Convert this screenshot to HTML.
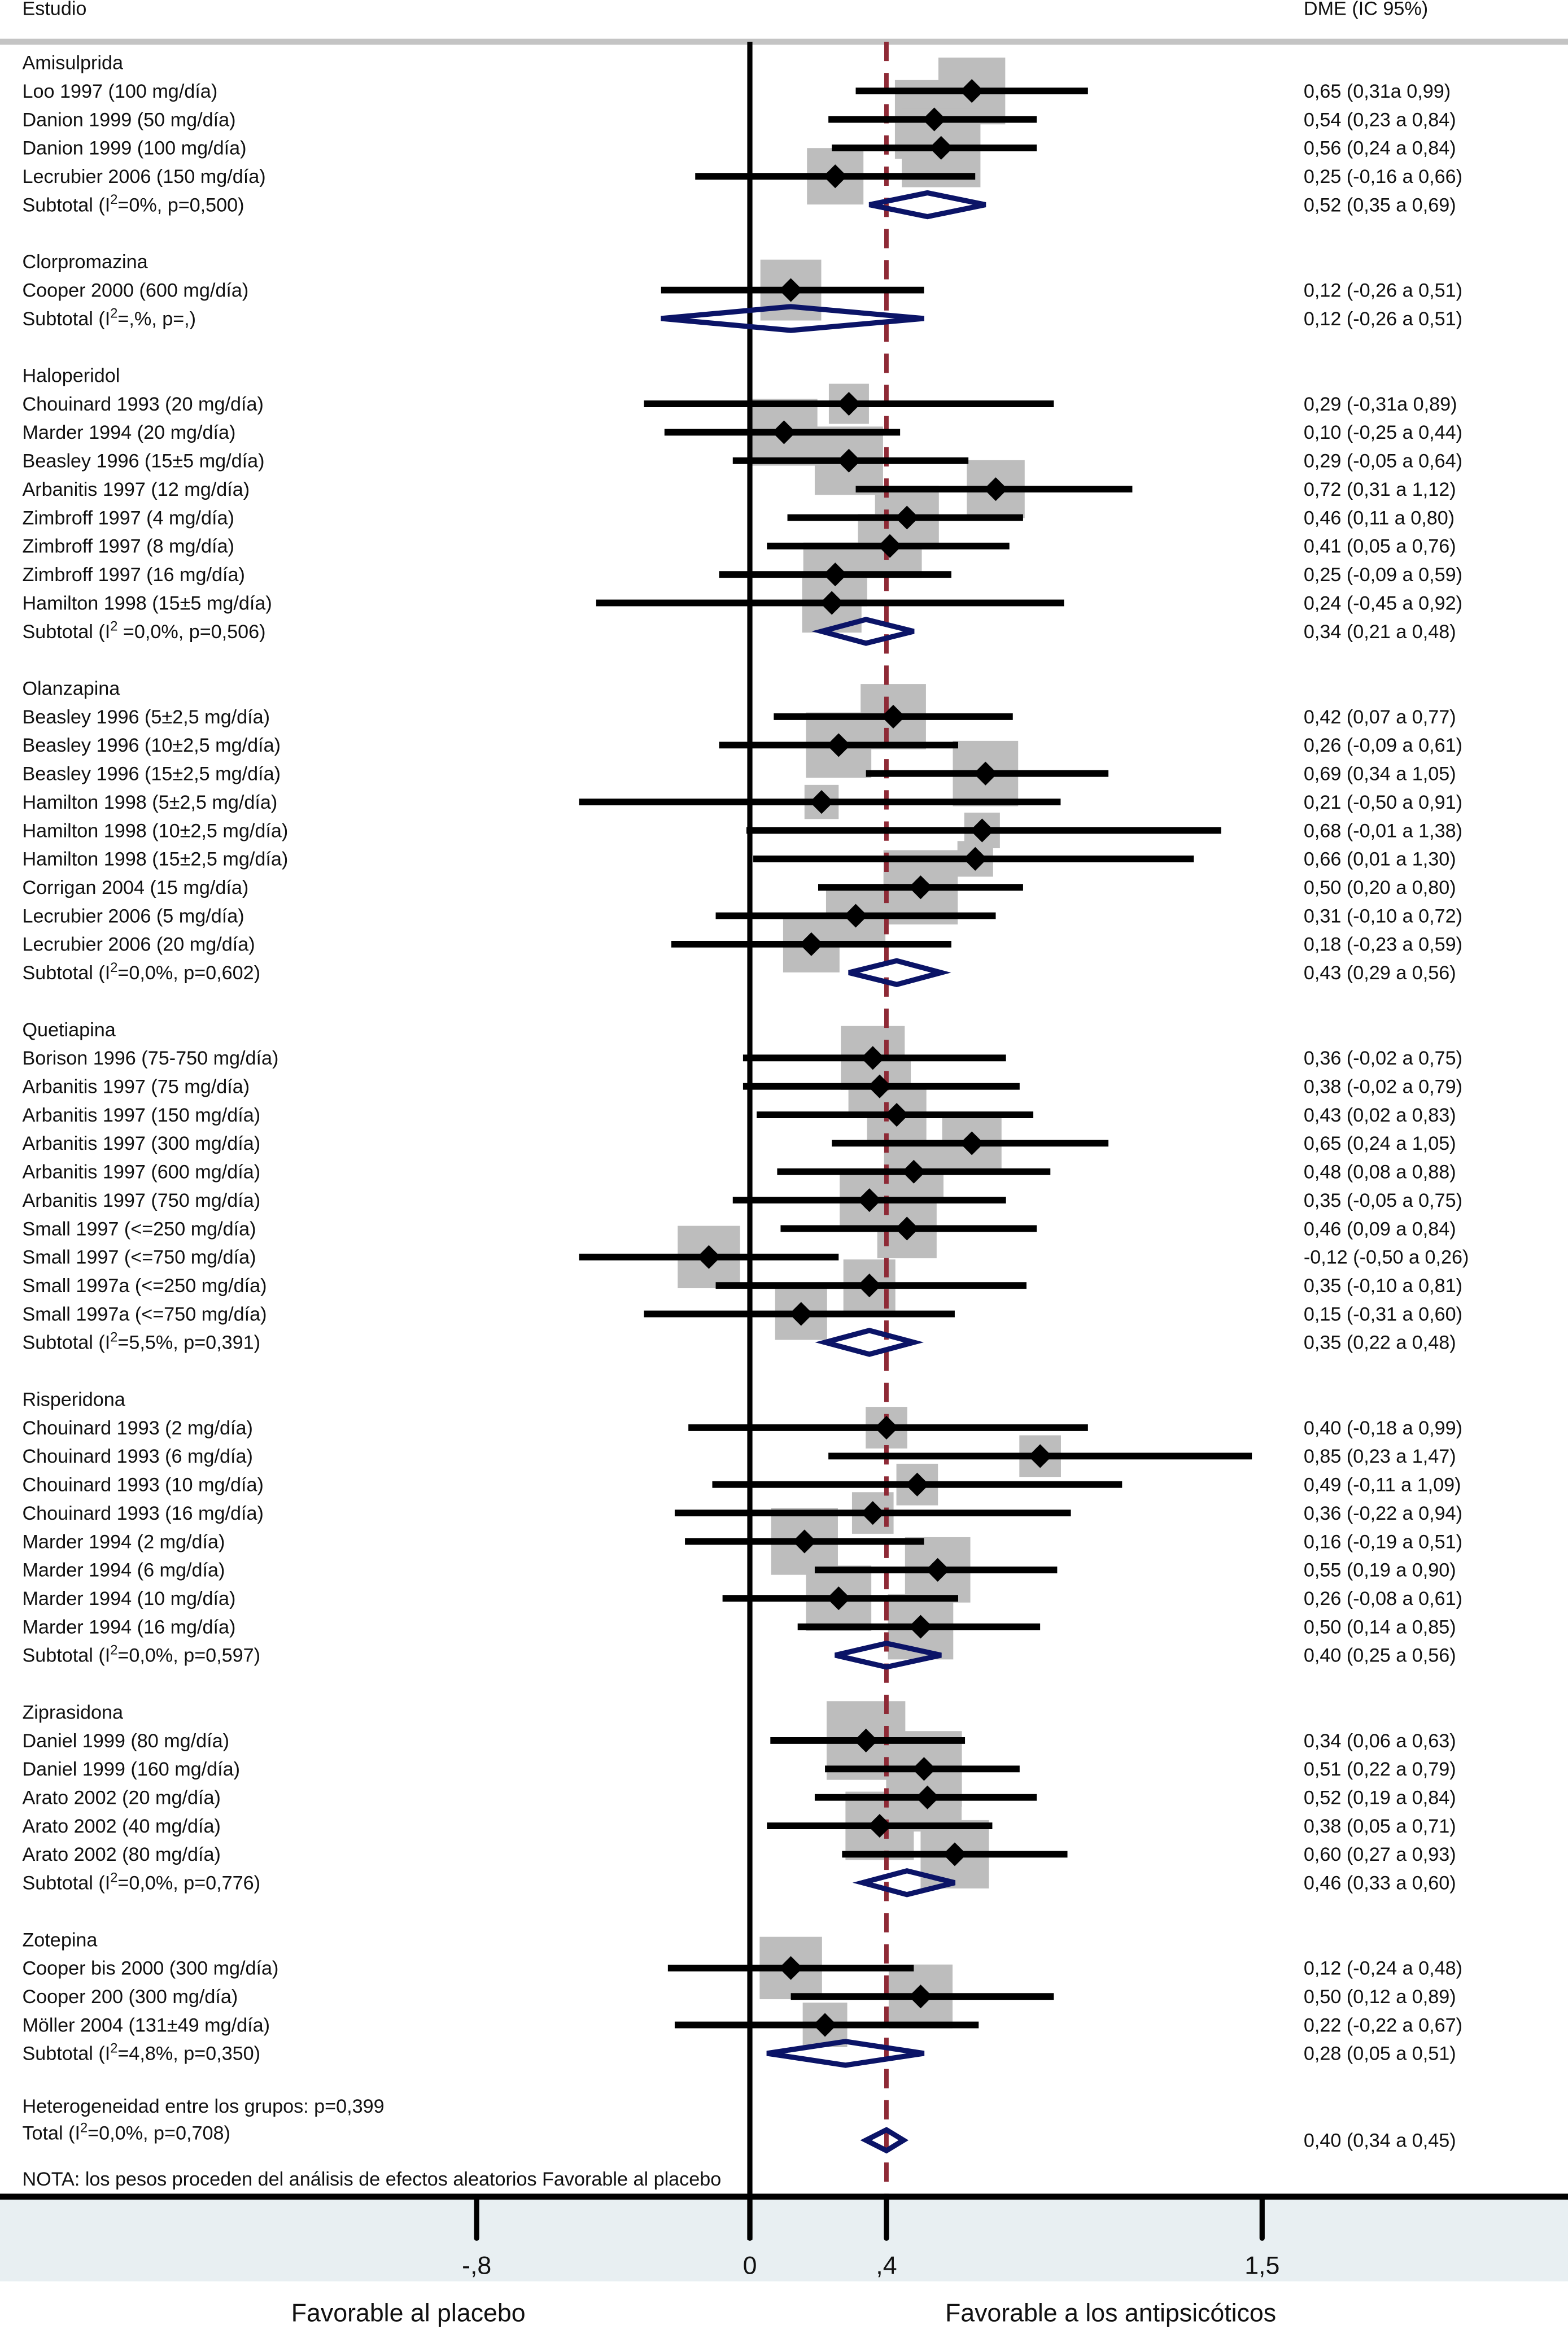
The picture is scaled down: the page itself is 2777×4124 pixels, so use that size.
<!DOCTYPE html>
<html><head><meta charset="utf-8"><style>
html,body{margin:0;padding:0;background:#fff}
svg{display:block}
text{font-family:"Liberation Sans",sans-serif;fill:#111}
</style></head><body>
<svg id="chart" width="2777" height="4124" viewBox="0 0 1056 1568" xmlns="http://www.w3.org/2000/svg">
<rect x="0" y="1479" width="1056" height="57" fill="#e8eff2"/>
<text x="15" y="10" font-size="13">Estudio</text>
<text x="878" y="10" font-size="13">DME (IC 95%)</text>
<line x1="0" y1="28" x2="1056" y2="28" stroke="#c4c4c4" stroke-width="4"/>
<g id="plot"></g>
<line x1="0" y1="1479" x2="1056" y2="1479" stroke="#000" stroke-width="4"/>
<text x="275" y="1563" font-size="17" text-anchor="middle">Favorable al placebo</text>
<text x="748" y="1563" font-size="17" text-anchor="middle">Favorable a los antipsicóticos</text>
</svg>
<script>
const groupNames = ["Amisulprida","Clorpromazina","Haloperidol","Olanzapina","Quetiapina","Risperidona","Ziprasidona","Zotepina"];
const groupSizes = [4,1,8,9,10,8,5,3];
const studyLabels = ["Loo 1997 (100 mg/día)","Danion 1999 (50 mg/día)","Danion 1999 (100 mg/día)","Lecrubier 2006 (150 mg/día)",
"Cooper 2000 (600 mg/día)",
"Chouinard 1993 (20 mg/día)","Marder 1994 (20 mg/día)","Beasley 1996 (15±5 mg/día)","Arbanitis 1997 (12 mg/día)","Zimbroff 1997 (4 mg/día)","Zimbroff 1997 (8 mg/día)","Zimbroff 1997 (16 mg/día)","Hamilton 1998 (15±5 mg/día)",
"Beasley 1996 (5±2,5 mg/día)","Beasley 1996 (10±2,5 mg/día)","Beasley 1996 (15±2,5 mg/día)","Hamilton 1998 (5±2,5 mg/día)","Hamilton 1998 (10±2,5 mg/día)","Hamilton 1998 (15±2,5 mg/día)","Corrigan 2004 (15 mg/día)","Lecrubier 2006 (5 mg/día)","Lecrubier 2006 (20 mg/día)",
"Borison 1996 (75-750 mg/día)","Arbanitis 1997 (75 mg/día)","Arbanitis 1997 (150 mg/día)","Arbanitis 1997 (300 mg/día)","Arbanitis 1997 (600 mg/día)","Arbanitis 1997 (750 mg/día)","Small 1997 (<=250 mg/día)","Small 1997 (<=750 mg/día)","Small 1997a (<=250 mg/día)","Small 1997a (<=750 mg/día)",
"Chouinard 1993 (2 mg/día)","Chouinard 1993 (6 mg/día)","Chouinard 1993 (10 mg/día)","Chouinard 1993 (16 mg/día)","Marder 1994 (2 mg/día)","Marder 1994 (6 mg/día)","Marder 1994 (10 mg/día)","Marder 1994 (16 mg/día)",
"Daniel 1999 (80 mg/día)","Daniel 1999 (160 mg/día)","Arato 2002 (20 mg/día)","Arato 2002 (40 mg/día)","Arato 2002 (80 mg/día)",
"Cooper bis 2000 (300 mg/día)","Cooper 200 (300 mg/día)","Möller 2004 (131±49 mg/día)"];
const studyEst = [0.65,0.54,0.56,0.25, 0.12, 0.29,0.10,0.29,0.72,0.46,0.41,0.25,0.24, 0.42,0.26,0.69,0.21,0.68,0.66,0.50,0.31,0.18, 0.36,0.38,0.43,0.65,0.48,0.35,0.46,-0.12,0.35,0.15, 0.40,0.85,0.49,0.36,0.16,0.55,0.26,0.50, 0.34,0.51,0.52,0.38,0.60, 0.12,0.50,0.22];
const studyLo = [0.31,0.23,0.24,-0.16, -0.26, -0.31,-0.25,-0.05,0.31,0.11,0.05,-0.09,-0.45, 0.07,-0.09,0.34,-0.50,-0.01,0.01,0.20,-0.10,-0.23, -0.02,-0.02,0.02,0.24,0.08,-0.05,0.09,-0.50,-0.10,-0.31, -0.18,0.23,-0.11,-0.22,-0.19,0.19,-0.08,0.14, 0.06,0.22,0.19,0.05,0.27, -0.24,0.12,-0.22];
const studyHi = [0.99,0.84,0.84,0.66, 0.51, 0.89,0.44,0.64,1.12,0.80,0.76,0.59,0.92, 0.77,0.61,1.05,0.91,1.38,1.30,0.80,0.72,0.59, 0.75,0.79,0.83,1.05,0.88,0.75,0.84,0.26,0.81,0.60, 0.99,1.47,1.09,0.94,0.51,0.90,0.61,0.85, 0.63,0.79,0.84,0.71,0.93, 0.48,0.89,0.67];
const studyWeight = [45,53,53,38, 41, 27,45,46,39,43,43,43,40, 44,44,44,23,24,24,50,40,38, 43,42,40,40,40,40,40,42,35,35, 28,28,28,28,45,44,44,44, 53,51,46,46,46, 42,43,30];
const studyCI = ["0,65 (0,31a 0,99)","0,54 (0,23 a 0,84)","0,56 (0,24 a 0,84)","0,25 (-0,16 a 0,66)",
"0,12 (-0,26 a 0,51)",
"0,29 (-0,31a 0,89)","0,10 (-0,25 a 0,44)","0,29 (-0,05 a 0,64)","0,72 (0,31 a 1,12)","0,46 (0,11 a 0,80)","0,41 (0,05 a 0,76)","0,25 (-0,09 a 0,59)","0,24 (-0,45 a 0,92)",
"0,42 (0,07 a 0,77)","0,26 (-0,09 a 0,61)","0,69 (0,34 a 1,05)","0,21 (-0,50 a 0,91)","0,68 (-0,01 a 1,38)","0,66 (0,01 a 1,30)","0,50 (0,20 a 0,80)","0,31 (-0,10 a 0,72)","0,18 (-0,23 a 0,59)",
"0,36 (-0,02 a 0,75)","0,38 (-0,02 a 0,79)","0,43 (0,02 a 0,83)","0,65 (0,24 a 1,05)","0,48 (0,08 a 0,88)","0,35 (-0,05 a 0,75)","0,46 (0,09 a 0,84)","-0,12 (-0,50 a 0,26)","0,35 (-0,10 a 0,81)","0,15 (-0,31 a 0,60)",
"0,40 (-0,18 a 0,99)","0,85 (0,23 a 1,47)","0,49 (-0,11 a 1,09)","0,36 (-0,22 a 0,94)","0,16 (-0,19 a 0,51)","0,55 (0,19 a 0,90)","0,26 (-0,08 a 0,61)","0,50 (0,14 a 0,85)",
"0,34 (0,06 a 0,63)","0,51 (0,22 a 0,79)","0,52 (0,19 a 0,84)","0,38 (0,05 a 0,71)","0,60 (0,27 a 0,93)",
"0,12 (-0,24 a 0,48)","0,50 (0,12 a 0,89)","0,22 (-0,22 a 0,67)"];
const subEst = [0.52,0.12,0.34,0.43,0.35,0.40,0.46,0.28];
const subLo = [0.35,-0.26,0.21,0.29,0.22,0.25,0.33,0.05];
const subHi = [0.69,0.51,0.48,0.56,0.48,0.56,0.60,0.51];
const subI2 = ["=0%, p=0,500","=,%, p=,)"," =0,0%, p=0,506","=0,0%, p=0,602","=5,5%, p=0,391","=0,0%, p=0,597","=0,0%, p=0,776","=4,8%, p=0,350"];
const subCI = ["0,52 (0,35 a 0,69)","0,12 (-0,26 a 0,51)","0,34 (0,21 a 0,48)","0,43 (0,29 a 0,56)","0,35 (0,22 a 0,48)","0,40 (0,25 a 0,56)","0,46 (0,33 a 0,60)","0,28 (0,05 a 0,51)"];
const totalEst = 0.40, totalLo = 0.34, totalHi = 0.45;
const tickValues = [-0.8, 0, 0.4, 1.5];
const tickLabels = ["-,8","0",",4","1,5"];

const NS = "http://www.w3.org/2000/svg";
const g = document.getElementById("plot");
const X = v => 505 + 230 * v;
const rowY = i => 42 + i * 19.15;
function el(tag, attrs, parent) { const e = document.createElementNS(NS, tag); for (const k in attrs) e.setAttribute(k, attrs[k]); (parent||g).appendChild(e); return e; }
function txt(x, y, s, name, anchor) { const t = el("text", {x:x, y:y+4.5, "font-size":13}); if (anchor) t.setAttribute("text-anchor", anchor); t.textContent = s;
  
  
  return t; }

// background layers
const boxes = el("g", {}); const lines = el("g", {}); const fg = el("g", {});
let row = 0, si = 0;
for (let gi = 0; gi < groupNames.length; gi++) {
  txt(15, rowY(row), groupNames[gi], "group-label"); row++;
  for (let k = 0; k < groupSizes[gi]; k++, si++, row++) {
    const y = rowY(row);
    txt(15, y, studyLabels[si], "study-label");
    txt(878, y, studyCI[si], "study-estimate-text");
    const w = studyWeight[si];
    const b = el("rect", {x:X(studyEst[si])-w/2, y:y-w/2, width:w, height:w, fill:"#bdbdbd"}, boxes);
    
    
    const l = el("line", {x1:X(studyLo[si]), x2:X(studyHi[si]), y1:y, y2:y, stroke:"#000", "stroke-width":4.5}, lines);
    
    
    const cx = X(studyEst[si]);
    const d = el("polygon", {points:`${cx-8},${y} ${cx},${y-8} ${cx+8},${y} ${cx},${y+8}`, fill:"#000"}, fg);
    
    
  }
  const y = rowY(row);
  const t = txt(15, y, "", "subtotal-label");
  t.textContent = "Subtotal  (I";
  const sup = document.createElementNS(NS, "tspan"); sup.setAttribute("dy", "-5"); sup.setAttribute("font-size", "9"); sup.textContent = "2"; t.appendChild(sup);
  const rest = document.createElementNS(NS, "tspan"); rest.setAttribute("dy", "5"); rest.textContent = subI2[gi] + (subI2[gi].endsWith(")") ? "" : ")"); t.appendChild(rest);
  txt(878, y, subCI[gi], "subtotal-estimate-text");
  const dm = el("polygon", {points:`${X(subLo[gi])},${y} ${X(subEst[gi])},${y-8} ${X(subHi[gi])},${y} ${X(subEst[gi])},${y+8}`, fill:"none", stroke:"#0b1467", "stroke-width":3.5}, fg);
  
  
  row += 2;
}
txt(15, 1418, "Heterogeneidad entre los grupos: p=0,399", "heterogeneity-label");
const tt = txt(15, 1436, "", "total-label");
tt.textContent = "Total (I";
{ const s = document.createElementNS(NS,"tspan"); s.setAttribute("dy","-5"); s.setAttribute("font-size","9"); s.textContent="2"; tt.appendChild(s);
  const r = document.createElementNS(NS,"tspan"); r.setAttribute("dy","5"); r.textContent="=0,0%, p=0,708)"; tt.appendChild(r); }
txt(878, 1441, "0,40 (0,34 a 0,45)", "total-estimate-text");
txt(15, 1467, "NOTA: los pesos proceden del análisis de efectos aleatorios Favorable al placebo", "note-text");

// reference lines
const zero = el("line", {x1:X(0), x2:X(0), y1:28, y2:1508, stroke:"#000", "stroke-width":3.5});


g.insertBefore(zero, boxes.nextSibling);
const ov = el("line", {x1:X(totalEst), x2:X(totalEst), y1:28, y2:1479, stroke:"#8e2a36", "stroke-width":3, "stroke-dasharray":"13 8"});


g.insertBefore(ov, lines);
const td = el("polygon", {points:`${X(totalLo)},1441 ${X(totalEst)},1434 ${X(totalHi)},1441 ${X(totalEst)},1448`, fill:"none", stroke:"#0b1467", "stroke-width":3.5}, fg);



for (let i = 0; i < tickValues.length; i++) {
  const tk = el("line", {x1:X(tickValues[i]), x2:X(tickValues[i]), y1:1479, y2:1507, stroke:"#000", "stroke-width":3.5, "stroke-linecap":"round"});
  
  
  const tl = el("text", {x:X(tickValues[i]), y:1531, "font-size":17, "text-anchor":"middle"});
  tl.textContent = tickLabels[i];
  
  
}
</script>
</body></html>
